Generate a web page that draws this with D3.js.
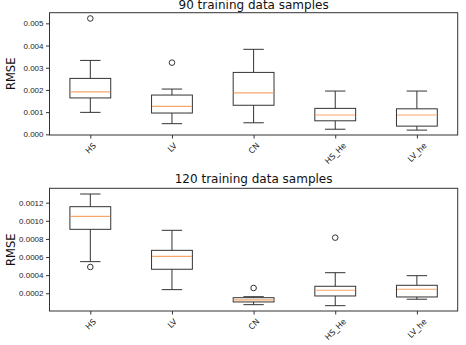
<!DOCTYPE html>
<html>
<head>
<meta charset="utf-8">
<script src="https://cdn.jsdelivr.net/npm/d3@7"></script>
<style>
  body { margin: 0; background: #fff; }
  svg { font-family: "DejaVu Sans", sans-serif; }
</style>
</head>
<body>
<div id="chart"></div>
<script>
// categories shared by both panels
const categories = ["HS", "LV", "CN", "HS_He", "LV_he"];

// 90 training data samples
const low90 = [0.00099, 0.00048, 0.00052, 0.00023, 0.00019];
const q1_90 = [0.00164, 0.00096, 0.00131, 0.00061, 0.00037];
const med90 = [0.00191, 0.00126, 0.00187, 0.00087, 0.00087];
const q3_90 = [0.00252, 0.00177, 0.00279, 0.00117, 0.00115];
const high90 = [0.00333, 0.00204, 0.00383, 0.00195, 0.00195];
const out90 = [[0.00522], [0.00323], [], [], []];
const ticks90 = [0, 0.001, 0.002, 0.003, 0.004, 0.005];

// 120 training data samples
const low120 = [0.000549, 0.00024, 0.000074, 0.000063, 0.000134];
const q1_120 = [0.000906, 0.000465, 0.000104, 0.00017, 0.000159];
const med120 = [0.00105, 0.000608, 0.000126, 0.000233, 0.000244];
const q3_120 = [0.001156, 0.000674, 0.000151, 0.000277, 0.000288];
const high120 = [0.001296, 0.000895, 0.000162, 0.000427, 0.000394];
const out120 = [[0.00049], [], [0.000258], [0.000814], []];
const ticks120 = [0.0002, 0.0004, 0.0006, 0.0008, 0.0010, 0.0012];

const W = 466, H = 345;
const svg = d3.select("#chart").append("svg")
  .attr("width", W).attr("height", H);

const left = 49.5, right = 457.7;
const lineCol = "#333", medCol = "#f7a66a";

// draw one boxplot panel
function panel(cfg) {
  const g = svg.append("g");
  const x = d3.scaleLinear().domain([0.5, 5.5]).range([left, right]);
  const y = d3.scaleLinear().domain(cfg.domain).range([cfg.bottom, cfg.top]);

  // title
  g.append("text")
    .attr("x", (left + right) / 2).attr("y", cfg.titleY)
    .attr("text-anchor", "middle")
    .style("font-size", "12px").attr("fill", "#111")
    .text(cfg.title);

  // y axis
  const ya = g.append("g")
    .attr("transform", `translate(${left},0)`)
    .call(d3.axisLeft(y).tickValues(cfg.ticks).tickFormat(d3.format(cfg.fmt))
      .tickSize(3.5).tickPadding(2.5));
  ya.select(".domain").remove();
  ya.selectAll("text").style("font-size", "8px").attr("fill", "#222");
  ya.selectAll("line").attr("stroke", lineCol);

  // x axis
  const xa = g.append("g")
    .attr("transform", `translate(0,${cfg.bottom})`)
    .call(d3.axisBottom(x).tickValues([1, 2, 3, 4, 5]).tickFormat("").tickSize(3.5));
  xa.select(".domain").remove();
  xa.selectAll("line").attr("stroke", lineCol);

  // rotated category labels
  categories.forEach((c, i) => {
    const t = g.append("text")
      .style("font-size", "8px").attr("fill", "#222")
      .attr("text-anchor", "middle")
      .attr("dominant-baseline", "central")
      .text(c);
    const w = t.node().getComputedTextLength();
    const hh = (w + 8) * Math.SQRT1_2;
    const cx = x(i + 1) + 0.5, cy = cfg.bottom + 6.5 + hh / 2;
    t.attr("transform", `translate(${cx},${cy}) rotate(-45)`);
  });

  // y label
  g.append("text")
    .attr("transform", `translate(15,${(cfg.top + cfg.bottom) / 2}) rotate(-90)`)
    .attr("text-anchor", "middle")
    .style("font-size", "11.5px").attr("fill", "#111")
    .text("RMSE");

  // boxes
  const hw = 0.25, cw = 0.125;
  categories.forEach((c, i) => {
    const p = i + 1;
    const b = g.append("g").attr("stroke", lineCol).attr("fill", "none").attr("stroke-width", 1);
    // whiskers
    b.append("line").attr("x1", x(p)).attr("x2", x(p)).attr("y1", y(cfg.q1[i])).attr("y2", y(cfg.low[i]));
    b.append("line").attr("x1", x(p)).attr("x2", x(p)).attr("y1", y(cfg.q3[i])).attr("y2", y(cfg.high[i]));
    // caps
    b.append("line").attr("x1", x(p - cw)).attr("x2", x(p + cw)).attr("y1", y(cfg.low[i])).attr("y2", y(cfg.low[i]));
    b.append("line").attr("x1", x(p - cw)).attr("x2", x(p + cw)).attr("y1", y(cfg.high[i])).attr("y2", y(cfg.high[i]));
    // box
    b.append("rect")
      .attr("x", x(p - hw)).attr("width", x(p + hw) - x(p - hw))
      .attr("y", y(cfg.q3[i])).attr("height", y(cfg.q1[i]) - y(cfg.q3[i]));
    // median
    b.append("line").attr("stroke", medCol).attr("stroke-width", 1.2)
      .attr("x1", x(p - hw) + 0.5).attr("x2", x(p + hw) - 0.5)
      .attr("y1", y(cfg.med[i])).attr("y2", y(cfg.med[i]));
    // outliers
    cfg.out[i].forEach(v => {
      b.append("circle").attr("cx", x(p)).attr("cy", y(v)).attr("r", 2.8);
    });
  });

  // frame
  g.append("rect")
    .attr("x", left).attr("y", cfg.top)
    .attr("width", right - left).attr("height", cfg.bottom - cfg.top)
    .attr("fill", "none").attr("stroke", lineCol).attr("stroke-width", 1);
}

panel({
  title: "90 training data samples", titleY: 9.3,
  top: 12.7, bottom: 135, domain: [-0.00003, 0.00548],
  ticks: ticks90, fmt: ".3f",
  low: low90, q1: q1_90, med: med90, q3: q3_90, high: high90, out: out90
});

panel({
  title: "120 training data samples", titleY: 183,
  top: 188.3, bottom: 311, domain: [0.000004, 0.001359],
  ticks: ticks120, fmt: ".4f",
  low: low120, q1: q1_120, med: med120, q3: q3_120, high: high120, out: out120
});
</script>
</body>
</html>
